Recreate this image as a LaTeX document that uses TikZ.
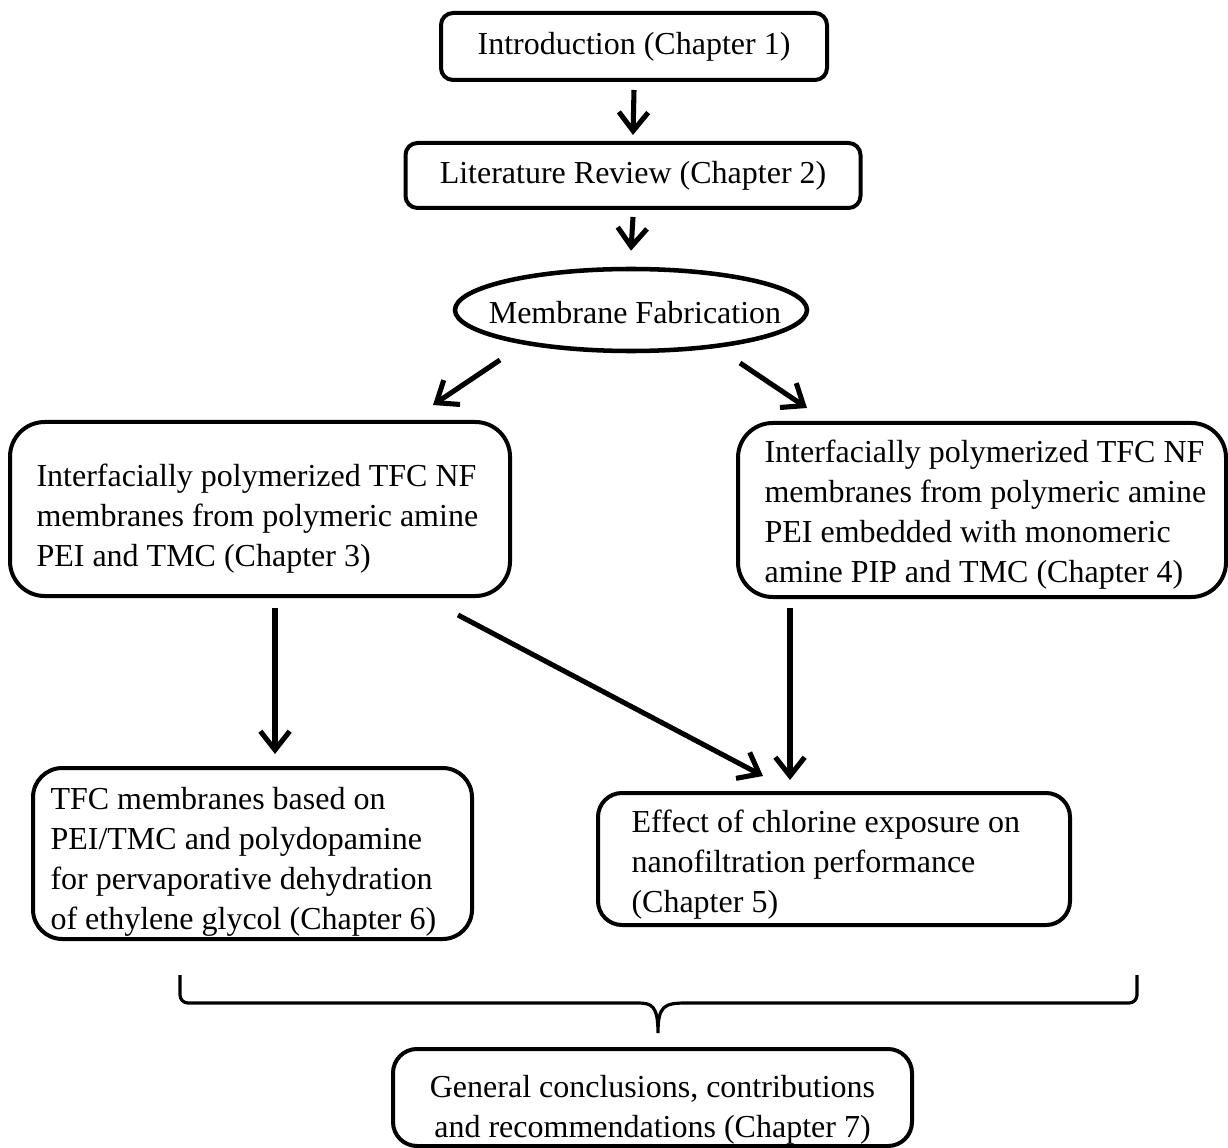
\documentclass[tikz,border=0pt]{standalone}
\usepackage{fontspec}
\setmainfont{Liberation Serif}
\usetikzlibrary{arrows.meta,calc,shapes.geometric}
\tikzset{
  box/.style={draw,line width=1.5pt,rounded corners=#1,inner sep=0pt,font=\fontsize{12}{15}\selectfont,align=center},
  box/.default=5pt,
  txt/.style={inner sep=0pt,align=left,font=\fontsize{12}{15}\selectfont},
  arr/.style={line width=1.9pt,-{Straight Barb[length=7pt,width=11pt]}},
  bracepath/.style={line width=1.2pt}
}
\begin{document}
\begin{tikzpicture}[x=0.375pt,y=-0.375pt]
\useasboundingbox (0,0) rectangle (1228,1148);

% top chain
\node[box=4.5pt,minimum width=386*0.375pt,minimum height=67*0.375pt] (intro) at (634,46.5) {Introduction (Chapter 1)};
\node[box=4.5pt,minimum width=455*0.375pt,minimum height=65*0.375pt] (lit) at (633,175.5) {Literature Review (Chapter 2)};
\node[draw,ellipse,line width=1.7pt,inner sep=0pt,minimum width=352*0.375pt,minimum height=82*0.375pt] (fab) at (631,310) {};
\node[txt] (fabt) at ($(fab.center)+(4,3)$) {Membrane Fabrication};

% second level boxes
\node[box=13pt,minimum width=500*0.375pt,minimum height=174*0.375pt] (b3) at (260,509) {};
\node[txt,anchor=west] (b3t) at ($(b3.west)+(28,10)$) {Interfacially polymerized TFC NF\\membranes from polymeric amine\\PEI and TMC (Chapter 3)};

\node[box=13pt,minimum width=488*0.375pt,minimum height=174*0.375pt] (b4) at (982,510) {};
\node[txt,anchor=west] (b4t) at ($(b4.west)+(28,5)$) {Interfacially polymerized TFC NF\\membranes from polymeric amine\\PEI embedded with monomeric\\amine PIP and TMC (Chapter 4)};

% third level boxes
\node[box=11pt,minimum width=439*0.375pt,minimum height=171*0.375pt] (b6) at (252.5,853.5) {};
\node[txt,anchor=west] (b6t) at ($(b6.west)+(19,8)$) {TFC membranes based on\\PEI/TMC and polydopamine\\for pervaporative dehydration\\of ethylene glycol (Chapter 6)};

\node[box=9pt,minimum width=472*0.375pt,minimum height=132*0.375pt] (b5) at (834,859) {};
\node[txt,anchor=west] (b5t) at ($(b5.west)+(35,6)$) {Effect of chlorine exposure on\\nanofiltration performance\\(Chapter 5)};

% final box
\node[box=9pt,minimum width=519*0.375pt,minimum height=97*0.375pt] (b7) at (652.5,1097.5) {};
\node[inner sep=0pt,align=center,font=\fontsize{12}{15}\selectfont] (b7t) at ($(b7.center)+(0,12)$) {General conclusions, contributions\\and recommendations (Chapter 7)};

% brace
\coordinate (brL) at (180,975);
\coordinate (brR) at (1137,975);
\coordinate (brT) at (658,1033);
\draw[bracepath] (brL) [rounded corners=3pt] -- (180,1003) -- (630,1003) [sharp corners]
  .. controls (652,1003) and (658,1006) .. (brT)
  .. controls (658,1006) and (664,1003) .. (686,1003)
  [rounded corners=3pt] -- (1137,1003) -- (brR);

% arrows
\draw[arr] ($(intro.south)+(0,8)$) -- ($(lit.north)+(0,-6)$);
\draw[arr] ($(lit.south)+(0,7)$) -- ($(fab.north)+(0,-16)$);
\draw[arr] ($(fab.center)+(-131,50)$) -- ($(b3.north)+(173,-15)$);
\draw[arr] ($(fab.center)+(109,53)$) -- ($(b4.north)+(-175,-13)$);
\draw[arr] ($(b3.south)+(15,10)$) -- ($(b6.north)+(22.5,-12)$);
\draw[arr] ($(b3.south east)+(-54,17)$) -- ($(b5.north west)+(167,-15)$);
\draw[arr] ($(b4.south)+(-192,9)$) -- ($(b5.north)+(-44,-11)$);
\end{tikzpicture}
\end{document}
